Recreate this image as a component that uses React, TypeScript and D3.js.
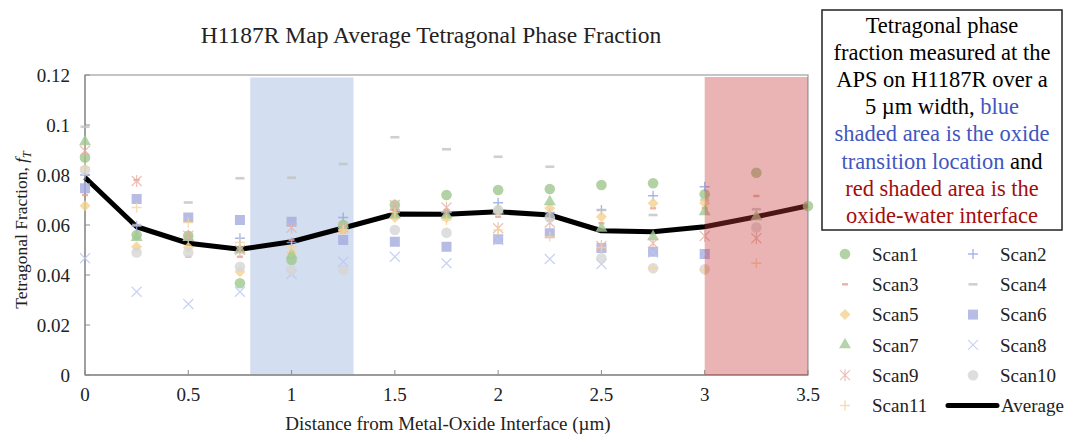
import * as d3 from 'd3'

// distances along the scan (µm)
const distances = [0, 0.25, 0.5, 0.75, 1, 1.25, 1.5, 1.75, 2, 2.25, 2.5, 2.75, 3, 3.25, 3.5]

const scan1 = [0.087, 0.056, 0.0557, 0.0367, 0.046, 0.06, 0.068, 0.072, 0.074, 0.0744, 0.076, 0.0767, 0.0723, 0.0809, 0.0676]
const scan2 = [0.08, 0.0596, 0.054, 0.0547, 0.053, 0.063, 0.066, 0.065, 0.0689, 0.065, 0.066, 0.0717, 0.0753, null, null]
const scan3 = [0.072, 0.078, 0.0473, 0.0473, 0.054, 0.057, 0.066, 0.066, 0.0633, 0.062, 0.0607, 0.0667, 0.0667, 0.0716, null]
const scan4 = [0.0993, 0.06, 0.069, 0.0787, 0.0789, 0.0844, 0.0951, 0.0903, 0.0873, 0.0833, 0.066, 0.064, 0.07, 0.0663, null]
const scan5 = [0.0677, 0.0513, 0.051, 0.0413, 0.049, 0.058, 0.063, 0.063, 0.066, 0.0667, 0.0633, 0.0687, 0.0687, null, null]
const scan6 = [0.0747, 0.0704, 0.063, 0.062, 0.0613, 0.054, 0.0533, 0.0513, 0.0543, 0.0567, 0.0508, 0.0493, 0.0484, null, null]
const scan7 = [0.0933, 0.055, 0.055, 0.05, 0.048, 0.06, 0.064, 0.064, 0.066, 0.0693, 0.0587, 0.0553, 0.0653, 0.0633, null]
const scan8 = [0.0467, 0.0333, 0.0284, 0.0333, 0.0404, 0.0453, 0.0473, 0.0447, 0.054, 0.0464, 0.0444, 0.049, 0.0484, null, null]
const scan9 = [0.0897, 0.0776, 0.0557, 0.05, 0.0589, 0.059, 0.068, 0.067, 0.0587, 0.061, 0.0516, 0.0527, 0.0556, 0.0547, null]
const scan10 = [0.082, 0.049, 0.049, 0.0433, 0.042, 0.042, 0.058, 0.0569, 0.066, 0.063, 0.0467, 0.0427, 0.0423, 0.059, null]
const scan11 = [0.083, 0.067, 0.061, 0.053, 0.0513, 0.058, 0.065, 0.062, 0.058, 0.0553, 0.051, 0.0427, 0.042, 0.0447, null]
const average = [0.079, 0.0593, 0.0527, 0.0503, 0.0533, 0.0588, 0.0644, 0.0643, 0.0653, 0.064, 0.0577, 0.0573, 0.0593, 0.0633, 0.0677]

const yTicks = [0, 0.02, 0.04, 0.06, 0.08, 0.1, 0.12]
const xTicks = [0, 0.5, 1, 1.5, 2, 2.5, 3, 3.5]
const blueBand = [0.8, 1.3]
const redBand = [3, 3.5]

const series = [
    { name: 'Scan1', values: scan1, shape: 'circle', color: '#9fc88e' },
    { name: 'Scan2', values: scan2, shape: 'plus', color: '#93a6e6' },
    { name: 'Scan3', values: scan3, shape: 'dashS', color: '#e8a088' },
    { name: 'Scan4', values: scan4, shape: 'dashL', color: '#c4c4c4' },
    { name: 'Scan5', values: scan5, shape: 'diamond', color: '#f5d392' },
    { name: 'Scan6', values: scan6, shape: 'square', color: '#a6acdf' },
    { name: 'Scan7', values: scan7, shape: 'triangle', color: '#a3ca95' },
    { name: 'Scan8', values: scan8, shape: 'x', color: '#bcc6f2' },
    { name: 'Scan9', values: scan9, shape: 'star', color: '#e8b2a6' },
    { name: 'Scan10', values: scan10, shape: 'circle', color: '#d6d6d6' },
    { name: 'Scan11', values: scan11, shape: 'plus', color: '#f6d59c' },
]

const FONT = '"Liberation Serif", "Times New Roman", serif'

function Marker({ shape, x, y, color }: any) {
    const t = `translate(${x},${y})`
    switch (shape) {
        case 'circle':
            return <circle cx={x} cy={y} r={5.3} fill={color} />
        case 'plus':
            return <path transform={t} d="M-5,0H5M0,-5V5" stroke={color} strokeWidth={1.4} fill="none" />
        case 'dashS':
            return <path transform={t} d="M-3,0H3" stroke={color} strokeWidth={2.4} />
        case 'dashL':
            return <path transform={t} d="M-4.5,0H4.5" stroke={color} strokeWidth={2.6} />
        case 'diamond':
            return <path transform={t} d="M0,-5.5L5.5,0L0,5.5L-5.5,0Z" fill={color} />
        case 'square':
            return <rect x={x - 5} y={y - 5} width={10} height={10} fill={color} />
        case 'triangle':
            return <path transform={t} d={d3.symbol(d3.symbolTriangle, 62)()!} fill={color} />
        case 'x':
            return <path transform={t} d="M-5,-5L5,5M-5,5L5,-5" stroke={color} strokeWidth={1.2} fill="none" />
        case 'star':
            return <path transform={t} d="M-5,-5L5,5M-5,5L5,-5M0,-6V6" stroke={color} strokeWidth={1.2} fill="none" />
    }
    return null
}

export default function App() {
    const width = 1065
    const height = 436
    const x = d3.scaleLinear().domain([0, 3.5]).range([85, 808])
    const y = d3.scaleLinear().domain([0, 0.12]).range([375, 75])

    const line = d3.line<number>()
        .x((d, i) => x(distances[i]))
        .y(d => y(d))

    const legendRows = [254, 284.3, 314.6, 344.9, 375.2, 405.5]
    const legendCols = [845, 973]

    const boxLines: { t: string, c: string }[][] = [
        [{ t: 'Tetragonal phase', c: '#000' }],
        [{ t: 'fraction measured at the', c: '#000' }],
        [{ t: 'APS on H1187R over a', c: '#000' }],
        [{ t: '5 µm width, ', c: '#000' }, { t: 'blue', c: '#4156c0' }],
        [{ t: 'shaded area is the oxide', c: '#4156c0' }],
        [{ t: 'transition location', c: '#4156c0' }, { t: ' and', c: '#000' }],
        [{ t: 'red shaded area is the', c: '#a50d0d' }],
        [{ t: 'oxide-water interface', c: '#a50d0d' }],
    ]

    return (
        <svg width={width} height={height} style={{ position: 'absolute', left: 0, top: 0, background: '#fff' }} fontFamily={FONT}>
            <text x={431} y={43} textAnchor="middle" fontSize={23.5} fill="#222">H1187R Map Average Tetragonal Phase Fraction</text>

            {/* blue band behind data */}
            <rect x={x(blueBand[0])} y={y(0.119)} width={x(blueBand[1]) - x(blueBand[0])} height={y(0) - y(0.119)} fill="#d3def0" />

            {/* frame */}
            <rect x={x(0)} y={y(0.12)} width={x(3.5) - x(0)} height={y(0) - y(0.12)} fill="none" stroke="#a6a6a6" strokeWidth={1.3} />
            <line x1={x(0)} x2={x(0)} y1={y(0.12)} y2={y(0)} stroke="#8c8c8c" strokeWidth={1.3} />
            <line x1={x(0)} x2={x(3.5)} y1={y(0)} y2={y(0)} stroke="#8c8c8c" strokeWidth={1.3} />

            {yTicks.map(t => (
                <g key={'y' + t}>
                    <line x1={x(0)} x2={x(0) + 5} y1={y(t)} y2={y(t)} stroke="#8c8c8c" />
                    <text x={70} y={y(t)} dy="0.35em" textAnchor="end" fontSize={19} fill="#222">{t}</text>
                </g>
            ))}
            {xTicks.map(t => (
                <g key={'x' + t}>
                    <line x1={x(t)} x2={x(t)} y1={y(0)} y2={y(0) - 5} stroke="#8c8c8c" />
                    <text x={x(t)} y={401} textAnchor="middle" fontSize={19} fill="#222">{t}</text>
                </g>
            ))}

            <text x={448} y={430} textAnchor="middle" fontSize={19} fill="#222">Distance from Metal-Oxide Interface (µm)</text>
            <text transform="translate(27,230) rotate(-90)" textAnchor="middle" fontSize={17.5} fill="#222">
                Tetragonal Fraction, <tspan fontStyle="italic">f</tspan><tspan fontStyle="italic" fontSize={12} dy={4}>T</tspan>
            </text>

            {/* average line */}
            <path d={line(average)!} fill="none" stroke="#000" strokeWidth={5} strokeLinejoin="round" />

            {series.map(s => (
                <g key={s.name} opacity={0.8}>
                    {s.values.map((v, i) => v == null ? null : (
                        <Marker key={i} shape={s.shape} x={x(distances[i])} y={y(v)} color={s.color} />
                    ))}
                </g>
            ))}

            {/* red band over data */}
            <rect x={x(redBand[0])} y={y(0.1192)} width={x(redBand[1]) - x(redBand[0])} height={y(0) - y(0.1192)} fill="#c8383a" fillOpacity={0.38} />

            {/* legend */}
            {series.map((s, i) => {
                const cx = legendCols[i % 2]
                const cy = legendRows[Math.floor(i / 2)]
                return (
                    <g key={'lg' + s.name}>
                        <g opacity={0.8}><Marker shape={s.shape} x={cx} y={cy} color={s.color} /></g>
                        <text x={cx + 27} y={cy} dy="0.35em" fontSize={19} fill="#222">{s.name}</text>
                    </g>
                )
            })}
            <line x1={948} x2={997} y1={legendRows[5]} y2={legendRows[5]} stroke="#000" strokeWidth={5} strokeLinecap="round" />
            <text x={1001} y={legendRows[5]} dy="0.35em" fontSize={19} fill="#222">Average</text>

            {/* annotation box */}
            <rect x={822} y={10} width={240} height={220} fill="#fff" stroke="#222" strokeWidth={1.5} />
            {boxLines.map((ln, i) => (
                <text key={'b' + i} x={942} y={33 + i * 27.1} textAnchor="middle" fontSize={22.5}>
                    {ln.map((p, j) => <tspan key={j} fill={p.c}>{p.t}</tspan>)}
                </text>
            ))}
        </svg>
    )
}
